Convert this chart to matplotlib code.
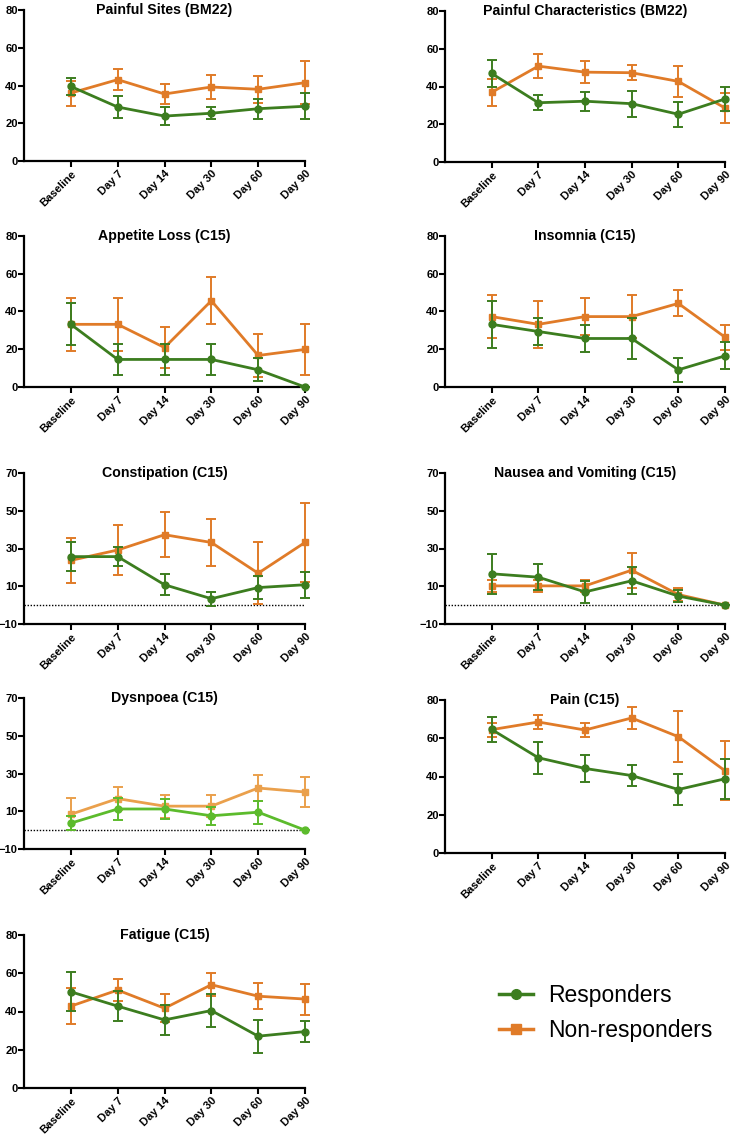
import matplotlib
matplotlib.use("Agg")
import matplotlib.pyplot as plt
from matplotlib.lines import Line2D
import numpy as np

plt.rcParams['font.family'] = ['Liberation Sans', 'DejaVu Sans']

timepoints = ["Baseline", "Day 7", "Day 14", "Day 30", "Day 60", "Day 90"]

# Painful Sites (BM22)
sites_resp = [39.5, 28.6, 23.8, 25.3, 27.7, 29.0]
sites_resp_err = [4.7, 5.8, 4.8, 3.2, 5.3, 7.0]
sites_non = [36.0, 43.1, 35.5, 39.2, 38.0, 41.5]
sites_non_err = [6.6, 5.4, 5.4, 6.1, 7.2, 11.3]

# Painful Characteristics (BM22)
char_resp = [46.9, 31.4, 32.2, 30.9, 25.3, 33.4]
char_resp_err = [7.3, 4.0, 5.1, 6.8, 6.6, 6.5]
char_non = [36.9, 50.8, 47.6, 47.3, 42.7, 28.6]
char_non_err = [7.0, 6.3, 5.7, 4.0, 8.0, 7.7]

# Appetite Loss (C15)
app_resp = [33.2, 14.6, 14.6, 14.6, 9.1, 0.0]
app_resp_err = [11.1, 8.1, 8.1, 8.1, 6.0, 0.0]
app_non = [33.2, 33.2, 20.9, 45.7, 16.7, 19.9]
app_non_err = [14.1, 14.0, 10.7, 12.4, 11.2, 13.3]

# Insomnia (C15)
ins_resp = [33.2, 29.4, 25.7, 25.7, 9.1, 16.5]
ins_resp_err = [12.4, 7.0, 7.4, 10.8, 6.3, 7.2]
ins_non = [37.3, 33.2, 37.3, 37.3, 44.3, 26.4]
ins_non_err = [11.6, 12.5, 10.0, 11.6, 6.9, 6.7]

# Constipation (C15)
con_resp = [25.7, 25.7, 10.8, 3.4, 9.3, 10.8]
con_resp_err = [7.6, 4.9, 5.5, 3.6, 6.3, 7.0]
con_non = [23.7, 29.2, 37.3, 33.2, 16.9, 33.2]
con_non_err = [12.0, 13.4, 11.8, 12.6, 16.5, 21.0]

# Nausea and Vomiting (C15)
nau_resp = [16.6, 14.8, 7.0, 12.9, 4.8, 0.0]
nau_resp_err = [10.7, 7.0, 5.8, 7.2, 3.0, 0.0]
nau_non = [10.2, 10.2, 10.2, 18.5, 5.6, 0.0]
nau_non_err = [3.3, 3.3, 3.3, 9.2, 3.3, 0.0]

# Dysnpoea (C15)
dys_resp = [3.7, 11.2, 11.2, 7.6, 9.5, 0.0]
dys_resp_err = [3.8, 5.7, 5.5, 4.8, 6.0, 0.0]
dys_non = [8.4, 16.7, 12.7, 12.7, 22.3, 20.2]
dys_non_err = [8.4, 6.3, 6.1, 5.9, 7.0, 7.9]

# Pain (C15)
pain_resp = [64.6, 49.8, 44.2, 40.5, 33.2, 38.8]
pain_resp_err = [6.3, 8.4, 7.3, 5.6, 8.0, 10.4]
pain_non = [64.5, 68.5, 64.3, 70.6, 60.8, 43.0]
pain_non_err = [3.7, 3.8, 3.7, 5.9, 13.4, 15.5]

# Fatigue (C15)
fat_resp = [50.3, 42.8, 35.6, 40.5, 27.1, 29.5]
fat_resp_err = [10.2, 8.0, 8.0, 8.5, 8.6, 5.5]
fat_non = [42.8, 51.2, 41.7, 54.0, 48.0, 46.5]
fat_non_err = [9.5, 5.6, 7.4, 6.1, 6.8, 8.1]

GREEN = "#3c7d1f"
ORANGE = "#e07b28"
LGREEN = "#5cbb2c"
LORANGE = "#eaa04c"

W, H = 731, 1135
fig = plt.figure(figsize=(W / 100, H / 100), dpi=100)

def add_axes_px(x0, x1, ytop, ybot):
    return fig.add_axes([x0 / W, 1 - ybot / H, (x1 - x0) / W, (ybot - ytop) / H])

panels = [
    ("Painful Sites (BM22)", 24, 305, 10, 161, sites_resp, sites_resp_err, sites_non, sites_non_err, (0, 80), [0, 20, 40, 60, 80], False, False),
    ("Painful Characteristics (BM22)", 445, 725, 11, 162, char_resp, char_resp_err, char_non, char_non_err, (0, 80), [0, 20, 40, 60, 80], False, False),
    ("Appetite Loss (C15)", 24, 305, 236, 387, app_resp, app_resp_err, app_non, app_non_err, (0, 80), [0, 20, 40, 60, 80], False, False),
    ("Insomnia (C15)", 445, 725, 236, 387, ins_resp, ins_resp_err, ins_non, ins_non_err, (0, 80), [0, 20, 40, 60, 80], False, False),
    ("Constipation (C15)", 24, 305, 473, 624, con_resp, con_resp_err, con_non, con_non_err, (-10, 70), [-10, 10, 30, 50, 70], True, False),
    ("Nausea and Vomiting (C15)", 445, 725, 473, 624, nau_resp, nau_resp_err, nau_non, nau_non_err, (-10, 70), [-10, 10, 30, 50, 70], True, False),
    ("Dysnpoea (C15)", 24, 305, 698, 849, dys_resp, dys_resp_err, dys_non, dys_non_err, (-10, 70), [-10, 10, 30, 50, 70], True, True),
    ("Pain (C15)", 445, 725, 700, 853, pain_resp, pain_resp_err, pain_non, pain_non_err, (0, 80), [0, 20, 40, 60, 80], False, False),
    ("Fatigue (C15)", 24, 305, 935, 1088, fat_resp, fat_resp_err, fat_non, fat_non_err, (0, 80), [0, 20, 40, 60, 80], False, False),
]

x = np.arange(len(timepoints))

for (title, x0, x1, yt, yb, r, re, n, ne, ylim, ticks, zline, light) in panels:
    ax = add_axes_px(x0, x1, yt, yb)
    gc = LGREEN if light else GREEN
    oc = LORANGE if light else ORANGE
    if zline:
        ax.axhline(0, color="black", lw=1.0, ls=(0, (1, 1.2)), zorder=1)
    ax.errorbar(x, n, yerr=ne, color=oc, ecolor=oc, lw=2.0, elinewidth=1.4,
                capsize=3.5, capthick=1.4, marker="s", markersize=5, zorder=3,
                clip_on=False)
    ax.errorbar(x, r, yerr=re, color=gc, ecolor=gc, lw=2.0, elinewidth=1.4,
                capsize=3.5, capthick=1.4, marker="o", markersize=5, zorder=4,
                clip_on=False)
    ax.set_xlim(-1, 5)
    ax.set_ylim(*ylim)
    ax.set_yticks(ticks)
    ax.set_xticks(x)
    ax.set_xticklabels(timepoints, rotation=45, ha="right", rotation_mode="anchor",
                       fontsize=8.0, fontweight="bold")
    for lab in ax.get_yticklabels():
        lab.set_fontsize(8.0)
        lab.set_fontweight("bold")
    for s in ("top", "right"):
        ax.spines[s].set_visible(False)
    for s in ("left", "bottom"):
        ax.spines[s].set_linewidth(1.6)
    ax.tick_params(axis="both", direction="out", length=4, width=1.5, pad=1.5)
    ax.tick_params(axis="y", pad=0.5)
    ax.text(0.5, 1.0, title, transform=ax.transAxes, ha="center", va="center",
            fontsize=10.2, fontweight="bold")

handles = [
    Line2D([0], [0], color=GREEN, lw=2.5, marker="o", markersize=7),
    Line2D([0], [0], color=ORANGE, lw=2.5, marker="s", markersize=7),
]
fig.legend(handles, ["Responders", "Non-responders"], loc="center left",
           bbox_to_anchor=(499 / W, 1 - 1013 / H), frameon=False, fontsize=16.5,
           handlelength=1.5, handletextpad=0.65, labelspacing=0.5, borderpad=0,
           borderaxespad=0)

fig.savefig("out.png", dpi=100)
